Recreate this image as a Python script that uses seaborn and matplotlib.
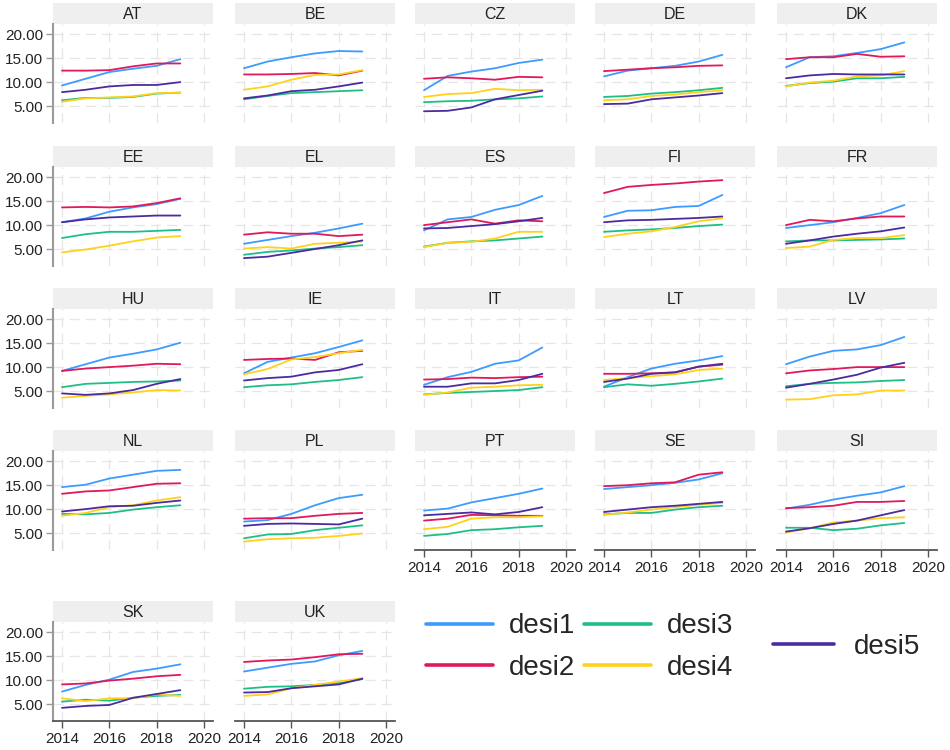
import pandas as pd
import seaborn as sns
import matplotlib.pyplot as plt
from matplotlib.lines import Line2D

# Data
years = [2014, 2015, 2016, 2017, 2018, 2019]
countries = ["AT", "BE", "CZ", "DE", "DK", "EE", "EL", "ES", "FI", "FR", "HU",
             "IE", "IT", "LT", "LV", "NL", "PL", "PT", "SE", "SI", "SK", "UK"]

desi1 = [
    [9.3, 10.7, 12.1, 12.8, 13.4, 14.8], [12.9, 14.3, 15.2, 16.0, 16.5, 16.4],
    [8.3, 11.3, 12.2, 12.9, 14.0, 14.7], [11.2, 12.4, 12.9, 13.4, 14.3, 15.7],
    [13.1, 15.2, 15.4, 16.1, 16.9, 18.3], [10.6, 11.4, 12.8, 13.7, 14.4, 15.5],
    [6.1, 6.9, 7.7, 8.4, 9.3, 10.3], [8.9, 11.2, 11.7, 13.2, 14.2, 16.1],
    [11.7, 13.0, 13.1, 13.8, 14.0, 16.3], [9.4, 10.0, 10.6, 11.5, 12.5, 14.2],
    [9.2, 10.6, 12.0, 12.8, 13.7, 15.1], [8.7, 11.1, 12.0, 12.9, 14.2, 15.6],
    [6.3, 7.9, 9.0, 10.7, 11.4, 14.1], [5.9, 7.9, 9.7, 10.7, 11.4, 12.3],
    [10.6, 12.2, 13.4, 13.7, 14.6, 16.3], [14.6, 15.1, 16.4, 17.2, 18.0, 18.2],
    [7.4, 7.7, 9.0, 10.8, 12.3, 13.0], [9.7, 10.1, 11.4, 12.3, 13.2, 14.3],
    [14.2, 14.6, 15.0, 15.5, 16.2, 17.5], [10.1, 10.9, 12.0, 12.8, 13.5, 14.8],
    [7.6, 9.0, 10.1, 11.7, 12.4, 13.3], [11.8, 12.6, 13.4, 13.9, 15.2, 16.1],
]
desi2 = [
    [12.4, 12.4, 12.5, 13.3, 13.9, 13.9], [11.6, 11.6, 11.7, 11.9, 11.4, 12.4],
    [10.7, 11.0, 10.8, 10.5, 11.1, 11.0], [12.3, 12.6, 12.9, 13.1, 13.4, 13.5],
    [14.8, 15.2, 15.2, 15.9, 15.3, 15.4], [13.7, 13.8, 13.7, 13.9, 14.6, 15.6],
    [8.0, 8.5, 8.2, 8.2, 7.7, 8.0], [10.0, 10.6, 11.2, 10.3, 11.0, 10.8],
    [16.7, 18.0, 18.4, 18.7, 19.1, 19.4], [10.0, 11.1, 10.8, 11.4, 11.8, 11.8],
    [9.2, 9.7, 10.0, 10.3, 10.7, 10.6], [11.5, 11.7, 11.8, 11.5, 13.1, 13.4],
    [7.4, 7.5, 7.8, 7.7, 7.9, 8.0], [8.6, 8.6, 8.7, 8.9, 10.1, 10.5],
    [8.7, 9.3, 9.6, 10.0, 10.0, 10.0], [13.2, 13.7, 13.9, 14.6, 15.3, 15.4],
    [8.0, 8.1, 8.1, 8.6, 9.0, 9.2], [7.6, 8.0, 8.8, 8.7, 8.6, 8.6],
    [14.8, 15.0, 15.4, 15.6, 17.2, 17.7], [10.2, 10.4, 10.7, 11.5, 11.5, 11.7],
    [9.1, 9.3, 9.9, 10.3, 10.8, 11.1], [13.8, 14.1, 14.3, 14.8, 15.4, 15.5],
]
desi3 = [
    [6.2, 6.7, 6.7, 6.9, 7.6, 7.8], [6.4, 7.1, 7.7, 7.9, 8.1, 8.3],
    [5.8, 6.0, 6.1, 6.4, 6.6, 7.0], [6.9, 7.1, 7.6, 7.9, 8.3, 8.8],
    [9.2, 9.8, 10.1, 10.8, 10.8, 11.1], [7.3, 8.1, 8.6, 8.6, 8.8, 9.0],
    [3.8, 4.4, 4.7, 5.1, 5.4, 5.8], [5.5, 6.3, 6.6, 6.8, 7.2, 7.6],
    [8.6, 8.9, 9.1, 9.4, 9.8, 10.1], [6.6, 6.8, 6.8, 6.9, 7.0, 7.2],
    [5.8, 6.5, 6.7, 6.9, 7.0, 7.2], [5.8, 6.2, 6.4, 6.9, 7.3, 7.9],
    [4.3, 4.6, 4.8, 5.0, 5.2, 5.8], [5.8, 6.4, 6.1, 6.5, 7.0, 7.6],
    [6.0, 6.5, 6.7, 6.8, 7.1, 7.3], [9.0, 8.9, 9.2, 9.9, 10.4, 10.8],
    [3.9, 4.7, 4.8, 5.6, 6.1, 6.6], [4.4, 4.8, 5.6, 5.8, 6.2, 6.5],
    [8.9, 9.2, 9.2, 9.9, 10.4, 10.7], [6.1, 6.1, 5.6, 5.9, 6.6, 7.1],
    [5.5, 5.9, 5.7, 6.3, 6.7, 6.9], [8.2, 8.6, 8.7, 9.0, 9.4, 10.2],
]
desi4 = [
    [5.9, 6.6, 6.8, 7.0, 7.7, 7.8], [8.4, 9.1, 10.5, 11.5, 11.6, 12.5],
    [6.9, 7.5, 7.7, 8.6, 8.3, 8.4], [6.2, 6.4, 7.1, 7.4, 7.9, 8.3],
    [9.1, 9.9, 10.3, 11.2, 11.4, 12.3], [4.3, 4.9, 5.7, 6.6, 7.4, 7.7],
    [5.1, 5.4, 5.1, 6.1, 6.3, 6.6], [5.4, 6.3, 6.5, 7.2, 8.6, 8.6],
    [7.5, 8.2, 8.7, 9.6, 10.8, 11.4], [5.2, 5.5, 6.9, 7.3, 7.3, 7.9],
    [3.6, 4.0, 4.3, 4.7, 5.2, 5.1], [8.5, 9.6, 11.6, 12.1, 12.9, 13.6],
    [4.2, 4.7, 5.7, 5.9, 6.2, 6.3], [7.3, 7.7, 8.1, 8.5, 9.4, 9.7],
    [3.2, 3.3, 4.1, 4.3, 5.1, 5.1], [8.6, 9.2, 10.4, 10.8, 11.8, 12.5],
    [3.2, 3.7, 3.9, 4.0, 4.4, 4.9], [5.8, 6.3, 8.0, 8.3, 8.3, 8.5],
    [8.8, 9.3, 9.9, 10.4, 10.9, 11.3], [5.1, 6.0, 7.2, 7.6, 8.1, 8.3],
    [6.2, 5.6, 6.2, 6.2, 7.0, 6.7], [6.7, 7.0, 8.3, 9.0, 9.7, 10.4],
]
desi5 = [
    [7.9, 8.4, 9.1, 9.4, 9.4, 10.0], [6.6, 7.2, 8.1, 8.4, 9.1, 9.9],
    [3.9, 4.0, 4.7, 6.4, 7.3, 8.2], [5.4, 5.5, 6.4, 6.8, 7.2, 7.7],
    [10.8, 11.4, 11.7, 11.6, 11.6, 11.6], [10.6, 11.2, 11.6, 11.8, 12.0, 12.0],
    [3.1, 3.4, 4.2, 5.0, 5.8, 6.8], [9.3, 9.4, 9.8, 10.2, 10.8, 11.5],
    [10.6, 11.0, 11.1, 11.3, 11.5, 11.8], [6.1, 6.8, 7.6, 8.2, 8.7, 9.5],
    [4.5, 4.2, 4.5, 5.2, 6.5, 7.5], [7.2, 7.7, 8.0, 8.9, 9.4, 10.6],
    [5.9, 5.9, 6.6, 6.6, 7.3, 8.6], [6.9, 7.6, 8.6, 8.9, 10.1, 10.7],
    [5.7, 6.5, 7.4, 8.4, 9.9, 10.9], [9.5, 10.0, 10.6, 10.7, 11.3, 11.8],
    [6.5, 6.9, 7.0, 6.9, 6.8, 8.0], [8.7, 9.0, 9.3, 8.9, 9.4, 10.4],
    [9.4, 9.9, 10.4, 10.7, 11.1, 11.5], [5.3, 6.0, 6.9, 7.6, 8.7, 9.8],
    [4.2, 4.6, 4.8, 6.3, 7.1, 7.9], [7.4, 7.5, 8.3, 8.7, 9.1, 10.3],
]

series = {"desi1": desi1, "desi2": desi2, "desi3": desi3, "desi4": desi4, "desi5": desi5}
colors = {"desi1": "#3d9bff", "desi2": "#e0195a", "desi3": "#1ebf87",
          "desi4": "#ffd21a", "desi5": "#4b2ca0"}

# long format table
rows = []
for name, table in series.items():
    for c, vals in zip(countries, table):
        for y, v in zip(years, vals):
            rows.append({"country": c, "year": y, "series": name, "value": v})
df = pd.DataFrame(rows)

sns.set_style("white")
plt.rcParams['font.family'] = ['Liberation Sans', 'DejaVu Sans']

W, H = 950, 750
fig = plt.figure(figsize=(9.5, 7.5), dpi=100)

col_left = [53, 235, 415, 595, 777]
row_top = [3, 146, 288, 430, 601]
pw, hh, ph = 160, 21, 99

for i, c in enumerate(countries):
    r, k = divmod(i, 5)
    x0, top = col_left[k], row_top[r]
    # header strip
    hax = fig.add_axes([x0 / W, 1 - (top + hh) / H, pw / W, hh / H])
    hax.set_facecolor("#efefef")
    hax.set_xticks([]); hax.set_yticks([])
    for s in hax.spines.values():
        s.set_visible(False)
    hax.text(0.5, 0.45, c, ha="center", va="center", fontsize=11.5, color="#222222")

    ax = fig.add_axes([x0 / W, 1 - (top + hh + ph) / H, pw / W, ph / H])
    sub = df[df["country"] == c]
    sns.lineplot(data=sub, x="year", y="value", hue="series", palette=colors,
                 linewidth=1.3, legend=False, ax=ax)
    ax.set_xlim(2013.62, 2020.38)
    ax.set_ylim(1.45, 22.15)
    ax.set_xticks([2014, 2016, 2018, 2020])
    ax.set_yticks([5, 10, 15, 20])
    ax.grid(True, color="#e6e6e6", linestyle=(0, (8, 5)), linewidth=0.9)
    ax.set_xlabel("")
    ax.set_ylabel("")
    for s in ax.spines.values():
        s.set_visible(False)

    bottom = (r == 4) or (r == 3 and k >= 2)
    if k == 0:
        ax.spines["left"].set_visible(True)
        ax.spines["left"].set_color("#9a9a9a")
        ax.spines["left"].set_linewidth(1.5)
        ax.set_yticklabels([f"{v:.2f}" for v in [5, 10, 15, 20]])
        ax.tick_params(axis="y", length=5, width=1, color="#9a9a9a",
                       labelsize=11, labelcolor="#222222", pad=2, left=True)
    else:
        ax.tick_params(axis="y", left=False, labelleft=False)
    if bottom:
        ax.spines["bottom"].set_visible(True)
        ax.spines["bottom"].set_color("#555555")
        ax.spines["bottom"].set_linewidth(1.3)
        ax.tick_params(axis="x", length=5, width=1, color="#555555",
                       labelsize=11, labelcolor="#222222", pad=3, bottom=True)
    else:
        ax.tick_params(axis="x", bottom=False, labelbottom=False)

# legend
handles = [Line2D([], [], color=colors[n], lw=2.6) for n in series]
labels = list(series)
fig.legend(handles[:4], labels[:4], ncol=2, loc="center left",
           bbox_to_anchor=(412 / W, 1 - 647 / H), frameon=False, fontsize=20,
           handlelength=2.4, handletextpad=0.6, columnspacing=0.3,
           labelspacing=0.55, borderpad=0)
fig.legend(handles[4:], labels[4:], loc="center left",
           bbox_to_anchor=(759 / W, 1 - 647 / H), frameon=False, fontsize=20,
           handlelength=2.2, handletextpad=0.7, borderpad=0)

plt.savefig("out.png", dpi=100)
